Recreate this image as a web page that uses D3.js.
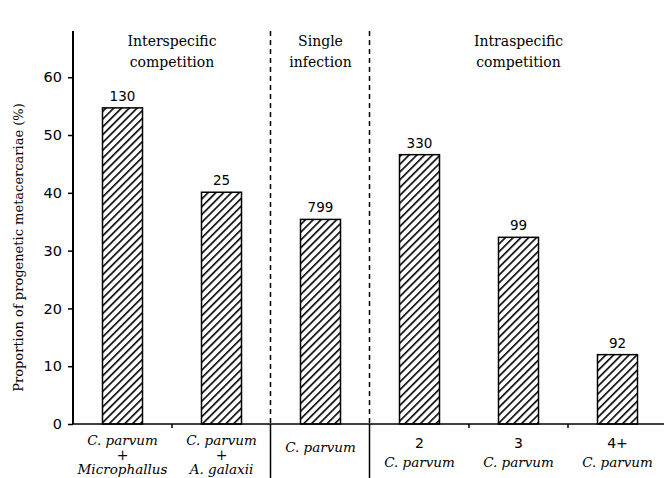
<!DOCTYPE html>
<html>
<head>
<meta charset="utf-8">
<script src="https://cdn.jsdelivr.net/npm/d3@7"></script>
<style>
  body { margin: 0; background: #fff; }
</style>
</head>
<body>
<div id="chart"></div>
<script>
const categories = ["a", "b", "c", "d", "e", "f"];
const values = [54.7, 40.1, 35.4, 46.6, 32.3, 12.0];
const sampleSizes = ["130", "25", "799", "330", "99", "92"];
const catLabels = [
    [["C. parvum", true], ["+", false], ["Microphallus", true]],
    [["C. parvum", true], ["+", false], ["A. galaxii", true]],
    [["C. parvum", true]],
    [["2", false], ["C. parvum", true]],
    [["3", false], ["C. parvum", true]],
    [["4+", false], ["C. parvum", true]]
];
const groups = [
    { name: ["Interspecific", "competition"], from: 0, to: 1 },
    { name: ["Single", "infection"], from: 2, to: 2 },
    { name: ["Intraspecific", "competition"], from: 3, to: 5 }
];
const yTicks = [0, 10, 20, 30, 40, 50, 60];

const W = 664, H = 478;
const margin = { top: 31, right: -3, bottom: 54, left: 73 };
const width = W - margin.left - margin.right;
const height = H - margin.top - margin.bottom;

const svgRoot = d3.select("#chart").append("svg")
    .attr("width", W)
    .attr("height", H);

const defs = svgRoot.append("defs");
const pat = defs.append("pattern")
    .attr("id", "hatch")
    .attr("patternUnits", "userSpaceOnUse")
    .attr("width", 5.5)
    .attr("height", 5.5)
    .attr("patternTransform", "rotate(45)");
pat.append("rect").attr("width", 5.5).attr("height", 5.5).attr("fill", "#fff");
pat.append("line")
    .attr("x1", 0).attr("y1", 0).attr("x2", 0).attr("y2", 5.5)
    .attr("stroke", "#000").attr("stroke-width", 3.2);

const svg = svgRoot.append("g")
    .attr("transform", "translate(" + margin.left + "," + margin.top + ")");

const x = d3.scaleBand()
    .domain(categories)
    .range([0, width]);

const y = d3.scaleLinear()
    .domain([0, 68])
    .range([height, 0]);

const barW = 40;

// bars
svg.selectAll(".bar")
    .data(values)
    .enter().append("rect")
    .attr("class", "bar")
    .attr("x", (d, i) => x(categories[i]) + x.bandwidth() / 2 - barW / 2)
    .attr("y", d => y(d))
    .attr("width", barW)
    .attr("height", d => height - y(d))
    .attr("fill", "url(#hatch)")
    .attr("stroke", "#000")
    .attr("stroke-width", 1.5);

// n labels
svg.selectAll(".nlab")
    .data(values)
    .enter().append("text")
    .attr("x", (d, i) => x(categories[i]) + x.bandwidth() / 2)
    .attr("y", d => y(d) - 7)
    .attr("text-anchor", "middle")
    .style("font-family", "DejaVu Sans")
    .style("font-size", "13.5px")
    .text((d, i) => sampleSizes[i]);

// y axis
const yAxis = d3.axisLeft(y).tickValues(yTicks).tickSize(5).tickSizeOuter(0);
const gy = svg.append("g").call(yAxis);
gy.select(".domain").remove();
gy.selectAll(".tick line").attr("stroke", "#000").attr("stroke-width", 1.5);
gy.selectAll(".tick text")
    .attr("x", -11)
    .style("font-family", "DejaVu Sans")
    .style("font-size", "14.5px")
    .attr("fill", "#000");
svg.append("line")
    .attr("x1", 0).attr("x2", 0)
    .attr("y1", 0).attr("y2", height)
    .attr("stroke", "#000").attr("stroke-width", 2);

// x axis line + small ticks
svg.append("line")
    .attr("x1", 0).attr("x2", width)
    .attr("y1", height).attr("y2", height)
    .attr("stroke", "#000").attr("stroke-width", 1.5);
[1, 4, 5].forEach(i => {
    svg.append("line")
        .attr("x1", x(categories[i])).attr("x2", x(categories[i]))
        .attr("y1", height).attr("y2", height + 4)
        .attr("stroke", "#000").attr("stroke-width", 1.5);
});

// group separators: dashed above, solid below
[2, 3].forEach(i => {
    const xx = Math.round(x(categories[i])) - 0.5;
    svg.append("line")
        .attr("x1", xx).attr("x2", xx)
        .attr("y1", 0).attr("y2", height)
        .attr("stroke", "#000").attr("stroke-width", 1.5)
        .attr("stroke-dasharray", "5,4");
    svg.append("line")
        .attr("x1", xx).attr("x2", xx)
        .attr("y1", height).attr("y2", H - margin.top)
        .attr("stroke", "#000").attr("stroke-width", 1.5);
});

// group headers
groups.forEach(g => {
    const cx = (x(categories[g.from]) + x(categories[g.to]) + x.bandwidth()) / 2;
    g.name.forEach((t, k) => {
        svg.append("text")
            .attr("x", cx)
            .attr("y", 15 + k * 21)
            .attr("text-anchor", "middle")
            .style("font-family", "DejaVu Serif")
            .style("font-size", "14px")
            .text(t);
    });
});

// category labels
catLabels.forEach((lines, i) => {
    const cx = x(categories[i]) + x.bandwidth() / 2;
    const startY = lines.length === 1 ? height + 28 : (lines.length === 2 ? height + 24 : height + 21);
    const step = lines.length === 3 ? 14.5 : 19;
    lines.forEach((ln, k) => {
        const isNum = /^[0-9]/.test(ln[0]);
        svg.append("text")
            .attr("x", cx)
            .attr("y", startY + k * step)
            .attr("text-anchor", "middle")
            .style("font-family", isNum ? "DejaVu Sans" : "DejaVu Serif")
            .style("font-style", ln[1] ? "italic" : "normal")
            .style("font-size", ln[1] ? "13.5px" : "14px")
            .text(ln[0]);
    });
});

// y title
svg.append("text")
    .attr("transform", "translate(" + (-50) + "," + (height / 2 + 20) + ") rotate(-90)")
    .attr("text-anchor", "middle")
    .style("font-family", "DejaVu Serif")
    .style("font-size", "13px")
    .text("Proportion of progenetic metacercariae (%)");
</script>
</body>
</html>
